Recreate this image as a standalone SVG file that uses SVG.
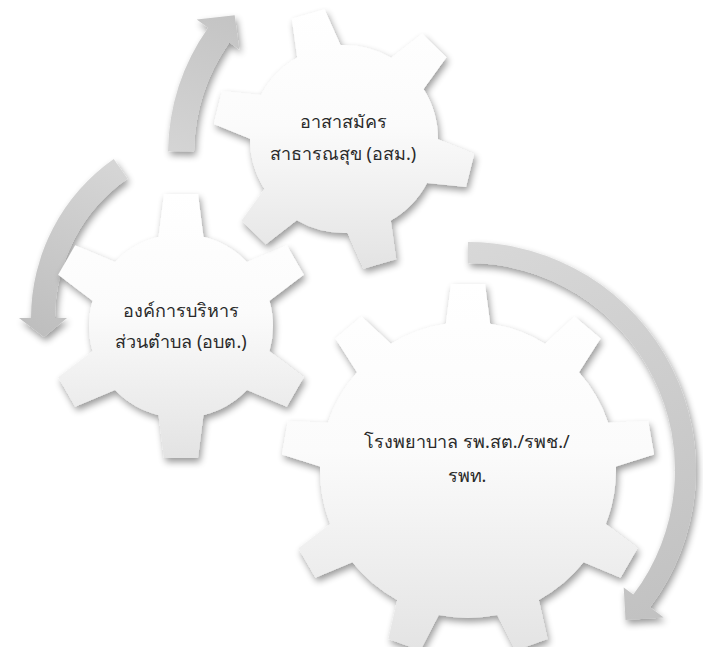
<svg xmlns="http://www.w3.org/2000/svg" width="703" height="647" viewBox="0 0 703 647">
<defs>
  <style>
    .lbl { font-family: 'Noto Sans', 'DejaVu Sans', sans-serif; font-size: 18px; fill: #2a2a2a; text-anchor: middle; }
    .gear { fill: url(#gearFill); }
  </style>
  <filter id="sh" x="-20%" y="-20%" width="140%" height="140%">
    <feGaussianBlur in="SourceAlpha" stdDeviation="3.5"/>
    <feOffset dx="2" dy="4" result="b"/>
    <feComponentTransfer><feFuncA type="linear" slope="0.4"/></feComponentTransfer>
    <feMerge><feMergeNode/><feMergeNode in="SourceGraphic"/></feMerge>
  </filter>
  <linearGradient id="gearFill" x1="0" y1="0" x2="0" y2="1">
    <stop offset="0" stop-color="#ffffff"/>
    <stop offset="0.45" stop-color="#fbfbfb"/>
    <stop offset="1" stop-color="#e3e3e3"/>
  </linearGradient>
  <linearGradient id="a1g" gradientUnits="userSpaceOnUse" x1="175" y1="150" x2="230" y2="15">
    <stop offset="0" stop-color="#d4d4d4"/>
    <stop offset="1" stop-color="#c4c4c4"/>
  </linearGradient>
  <linearGradient id="a2g" gradientUnits="userSpaceOnUse" x1="120" y1="165" x2="40" y2="335">
    <stop offset="0" stop-color="#d6d6d6"/>
    <stop offset="1" stop-color="#bebebe"/>
  </linearGradient>
  <linearGradient id="a3g" gradientUnits="userSpaceOnUse" x1="468" y1="242" x2="640" y2="620">
    <stop offset="0" stop-color="#d8d8d8"/>
    <stop offset="1" stop-color="#c2c2c2"/>
  </linearGradient>
  <clipPath id="c1">
    <circle r="148"/>
    <polygon points="-23,-140 -17,-186 17,-186 23,-140" transform="rotate(0)"/>
    <polygon points="-23,-140 -17,-186 17,-186 23,-140" transform="rotate(40)"/>
    <polygon points="-23,-140 -17,-186 17,-186 23,-140" transform="rotate(80)"/>
    <polygon points="-23,-140 -17,-186 17,-186 23,-140" transform="rotate(120)"/>
    <polygon points="-23,-140 -17,-186 17,-186 23,-140" transform="rotate(160)"/>
    <polygon points="-23,-140 -17,-186 17,-186 23,-140" transform="rotate(200)"/>
    <polygon points="-23,-140 -17,-186 17,-186 23,-140" transform="rotate(240)"/>
    <polygon points="-23,-140 -17,-186 17,-186 23,-140" transform="rotate(280)"/>
    <polygon points="-23,-140 -17,-186 17,-186 23,-140" transform="rotate(320)"/>
  </clipPath>
  <clipPath id="c2">
    <circle r="92"/>
    <polygon points="-23,-85 -17,-132 17,-132 23,-85" transform="rotate(0)"/>
    <polygon points="-23,-85 -17,-132 17,-132 23,-85" transform="rotate(60)"/>
    <polygon points="-23,-85 -17,-132 17,-132 23,-85" transform="rotate(120)"/>
    <polygon points="-23,-85 -17,-132 17,-132 23,-85" transform="rotate(180)"/>
    <polygon points="-23,-85 -17,-132 17,-132 23,-85" transform="rotate(240)"/>
    <polygon points="-23,-85 -17,-132 17,-132 23,-85" transform="rotate(300)"/>
  </clipPath>
  <clipPath id="c3">
    <circle r="94"/>
    <polygon points="-23,-88 -17,-130 17,-130 23,-88" transform="rotate(-16)"/>
    <polygon points="-23,-88 -17,-130 17,-130 23,-88" transform="rotate(44)"/>
    <polygon points="-23,-88 -17,-130 17,-130 23,-88" transform="rotate(104)"/>
    <polygon points="-23,-88 -17,-130 17,-130 23,-88" transform="rotate(164)"/>
    <polygon points="-23,-88 -17,-130 17,-130 23,-88" transform="rotate(224)"/>
    <polygon points="-23,-88 -17,-130 17,-130 23,-88" transform="rotate(284)"/>
  </clipPath>
</defs>

<g id="connectors" filter="url(#sh)">
  <path id="arrow1" fill="url(#a1g)" d="M168,151.1 A222,222 0 0 1 208.1,27.7 L196.7,19.6 L234.7,15.2 L239.3,49.5 L229.4,42.6 A196,196 0 0 0 194,151.6 Z"/>
  <path id="arrow2" fill="url(#a2g)" d="M113.7,159.1 A194,194 0 0 0 31,318 L19,318 L44,337 L67,318 L55,318 A170,170 0 0 1 127.5,178.7 Z"/>
  <path id="arrow3" fill="url(#a3g)" d="M468,242 A228,228 0 0 1 650.1,607.2 L663.7,617.4 L625.5,620 L623.7,587.4 L633.3,594.6 A207,207 0 0 0 468,263 Z"/>
</g>

<g id="gear1">
  <g filter="url(#sh)">
    <g transform="translate(468,470)">
      <rect class="gear" x="-186" y="-186" width="372" height="372" clip-path="url(#c1)"/>
    </g>
  </g>
  <text class="lbl" x="467" y="448">โรงพยาบาล รพ.สต./รพช./</text>
  <text class="lbl" x="467" y="482">รพท.</text>
</g>

<g id="gear2">
  <g filter="url(#sh)">
    <g transform="translate(181,326)">
      <rect class="gear" x="-132" y="-132" width="264" height="264" clip-path="url(#c2)"/>
    </g>
  </g>
  <text class="lbl" x="181" y="317">องค์การบริหาร</text>
  <text class="lbl" x="181" y="348">ส่วนตำบล (อบต.)</text>
</g>

<g id="gear3">
  <g filter="url(#sh)">
    <g transform="translate(344,139)">
      <rect class="gear" x="-130" y="-130" width="260" height="260" clip-path="url(#c3)"/>
    </g>
  </g>
  <text class="lbl" x="343" y="128">อาสาสมัคร</text>
  <text class="lbl" x="343" y="160">สาธารณสุข (อสม.)</text>
</g>
</svg>
